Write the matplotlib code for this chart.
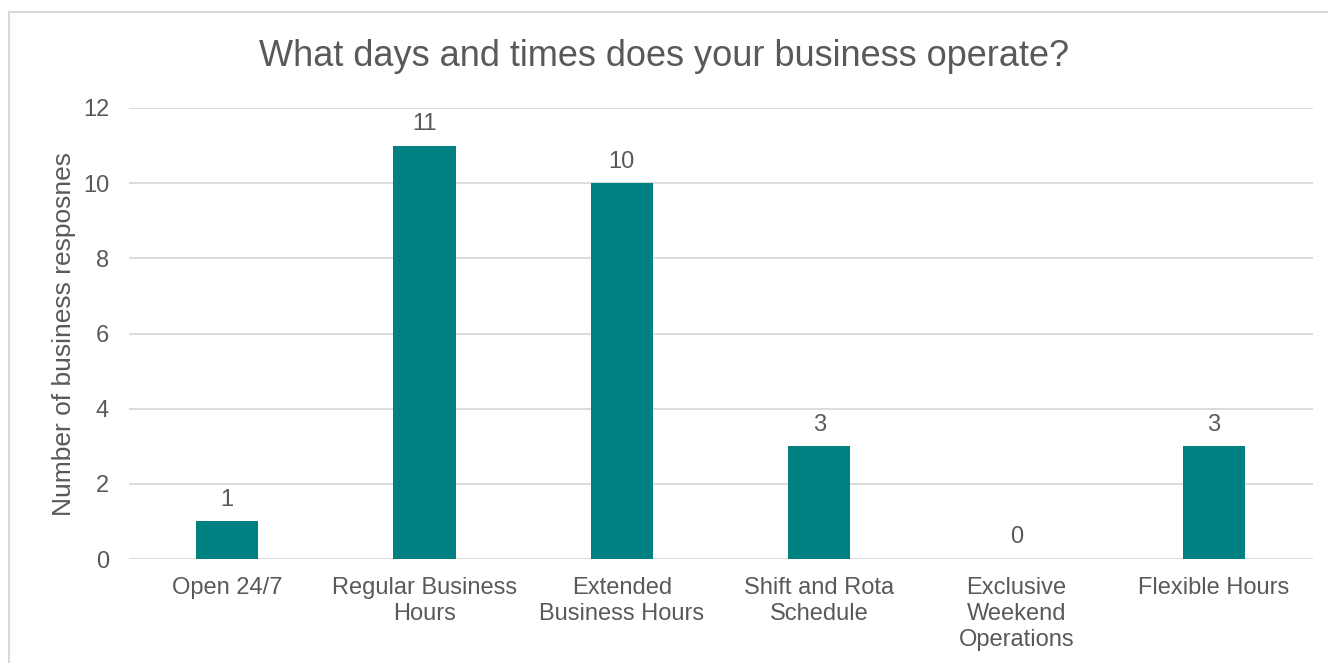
import matplotlib.pyplot as plt
from matplotlib.patches import Rectangle

categories = [
    "Open 24/7",
    "Regular Business\nHours",
    "Extended\nBusiness Hours",
    "Shift and Rota\nSchedule",
    "Exclusive\nWeekend\nOperations",
    "Flexible Hours",
]
responses = [1, 11, 10, 3, 0, 3]
y_ticks = [0, 2, 4, 6, 8, 10, 12]

TEXT = "#595959"
GRID = "#d9d9d9"
BAR = "#008080"

plt.rcParams["font.family"] = ["Liberation Sans", "DejaVu Sans"]

W, H = 1328, 663
fig = plt.figure(figsize=(W / 100, H / 100), dpi=100)

# light frame around the chart area (open on right and bottom)
fig.patches.append(Rectangle((9 / W, -0.1), 1.2, 0.1 + 1 - 12 / H,
                             transform=fig.transFigure, fill=False,
                             edgecolor=GRID, linewidth=1.5))

ax = fig.add_axes([128.5 / W, 1 - 559 / H, (1312.6 - 128.5) / W, (559 - 108) / H])

x = range(len(categories))
bars = ax.bar(x, responses, width=0.315, color=BAR, zorder=3)
for b, v in zip(bars, responses):
    ax.text(b.get_x() + b.get_width() / 2, v + 0.28, str(v), ha="center",
            va="bottom", fontsize=17, color=TEXT)

ax.set_xlim(-0.5, len(categories) - 0.5)
ax.set_ylim(0, 12)
ax.set_yticks(y_ticks)
ax.set_xticks(list(x))
ax.set_xticklabels(categories, fontsize=17, color=TEXT, linespacing=1.22, va="top")
ax.tick_params(axis="y", labelsize=17, labelcolor=TEXT, length=0, pad=14)
ax.tick_params(axis="x", length=0, pad=13)
ax.grid(axis="y", color=GRID, linewidth=1.3, zorder=0)
for s in ax.spines.values():
    s.set_visible(False)

ax.set_ylabel("Number of business resposnes", fontsize=19, color=TEXT, labelpad=5)
fig.text(0.5, 1 - 57 / H, "What days and times does your business operate?",
         ha="center", va="center", fontsize=26, color=TEXT)

fig.savefig("out.png", dpi=100)
